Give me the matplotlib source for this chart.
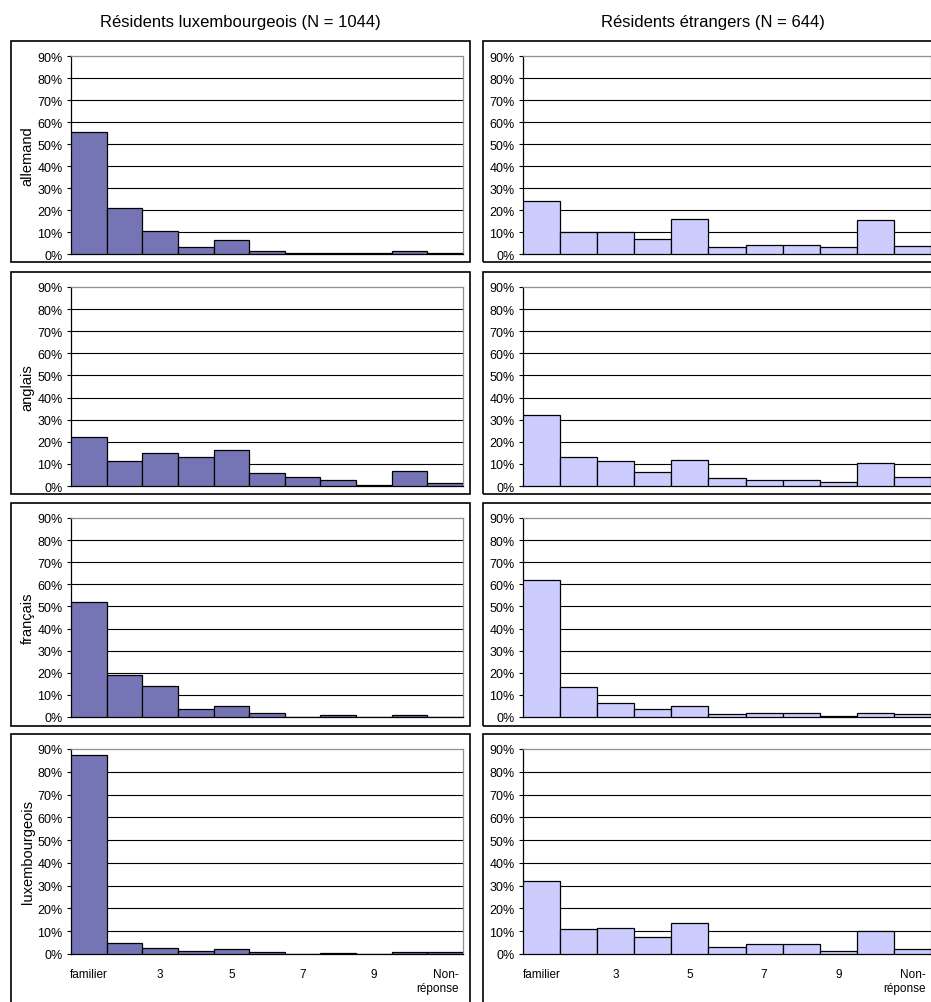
import matplotlib
matplotlib.use("Agg")
import matplotlib.pyplot as plt
from matplotlib.patches import Rectangle
from matplotlib.transforms import ScaledTranslation
import numpy as np

plt.rcParams["font.family"] = ["Liberation Sans", "DejaVu Sans"]

categories = ["familier", "2", "3", "4", "5", "6", "7", "8", "9", "10", "Non-\nréponse"]
tick_labels = ["familier", "", "3", "", "5", "", "7", "", "9", "", "Non-\nréponse"]
languages = ["allemand", "anglais", "français", "luxembourgeois"]
group_titles = ["Résidents luxembourgeois (N = 1044)", "Résidents étrangers (N = 644)"]

lux_allemand = [55.6, 20.8, 10.3, 3.3, 6.2, 1.2, 0.5, 0.6, 0.4, 1.4, 0.6]
lux_anglais = [22.0, 11.1, 15.0, 13.0, 16.5, 5.9, 4.1, 2.6, 0.6, 6.7, 1.5]
lux_francais = [52.0, 18.9, 13.9, 3.8, 4.8, 2.0, 0.0, 0.9, 0.0, 0.9, 0.0]
lux_luxembourgeois = [87.5, 5.0, 2.5, 1.5, 2.0, 0.7, 0.1, 0.4, 0.2, 0.7, 0.7]

etr_allemand = [24.2, 9.8, 9.8, 7.0, 15.8, 3.0, 4.1, 3.9, 3.0, 15.5, 3.6]
etr_anglais = [32.1, 12.9, 11.1, 6.5, 11.7, 3.5, 2.9, 2.9, 2.0, 10.5, 4.2]
etr_francais = [61.8, 13.5, 6.5, 3.5, 5.2, 1.5, 2.0, 1.7, 0.5, 1.7, 1.4]
etr_luxembourgeois = [31.9, 10.8, 11.6, 7.5, 13.5, 3.2, 4.5, 4.4, 1.3, 10.2, 2.2]

lux_values = [lux_allemand, lux_anglais, lux_francais, lux_luxembourgeois]
etr_values = [etr_allemand, etr_anglais, etr_francais, etr_luxembourgeois]

W, H = 931, 1003
fig = plt.figure(figsize=(W / 100, H / 100), dpi=100)
fig.patch.set_facecolor("white")


def fx(px):
    return px / W


def fy(py):
    return 1 - py / H


# pixel layout: boxes and plot areas
box_x = [(11, 470), (483, 942)]
box_y = [(42, 263), (273, 495), (504, 727), (735, 1012)]
plot_x = [(71, 463), (523, 931)]
plot_y = [(57, 255), (288, 487), (519, 718), (750, 955)]
colors = ["#7575B5", "#CCCCFF"]

for col in range(2):
    fig.text(fx((box_x[col][0] + box_x[col][1]) / 2), fy(22), group_titles[col],
             ha="center", va="center", fontsize=12)
    values = lux_values if col == 0 else etr_values
    for row in range(4):
        bx0, bx1 = box_x[col]
        by0, by1 = box_y[row]
        fig.patches.append(Rectangle((fx(bx0), fy(by1)), fx(bx1 - bx0), (by1 - by0) / H,
                                     transform=fig.transFigure, fill=False,
                                     edgecolor="black", linewidth=1.2, clip_on=False))
        px0, px1 = plot_x[col]
        py0, py1 = plot_y[row]
        ax = fig.add_axes([fx(px0), fy(py1), fx(px1 - px0), (py1 - py0) / H])
        x = np.arange(len(categories))
        ax.bar(x, values[row], width=1.0, color=colors[col], edgecolor="black",
               linewidth=0.9, zorder=3)
        ax.set_xlim(-0.5, len(categories) - 0.5)
        ax.set_ylim(0, 90)
        ax.set_yticks(np.arange(0, 91, 10))
        ax.set_yticklabels([f"{v}%" for v in range(0, 91, 10)], fontsize=9)
        for v in range(10, 81, 10):
            ax.axhline(v, color="black", linewidth=0.8, zorder=1)
        ax.spines["top"].set_color("#909090")
        ax.spines["right"].set_color("#909090")
        ax.spines["left"].set_color("black")
        ax.spines["bottom"].set_color("black")
        for s in ax.spines.values():
            s.set_linewidth(0.9)
        ax.tick_params(axis="y", length=3, width=0.8, pad=3)
        if row == 3:
            ax.set_xticks(x)
            labels = ax.set_xticklabels(tick_labels, fontsize=8.5, multialignment="right")
            ax.tick_params(axis="x", length=0, pad=10)
            # the last label sits a little left of its bar in the original
            labels[-1].set_transform(labels[-1].get_transform()
                                     + ScaledTranslation(-0.08, 0, fig.dpi_scale_trans))
        else:
            ax.set_xticks([])
        if col == 0:
            ax.set_ylabel(languages[row], fontsize=10.5, labelpad=2)

fig.savefig("out.png", dpi=100, facecolor="white")
